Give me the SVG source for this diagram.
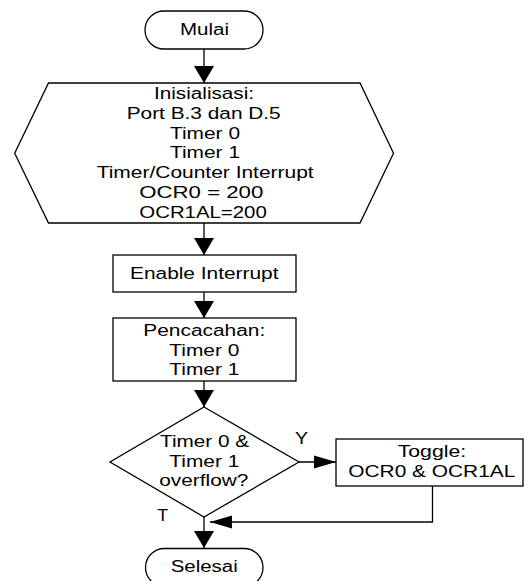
<svg xmlns="http://www.w3.org/2000/svg" width="524" height="581" viewBox="0 0 524 581">
<defs>
<style>
.s{fill:#fff;stroke:#000;stroke-width:1.3}
.c{fill:none;stroke:#000;stroke-width:1.3}
text{font-family:"Liberation Sans",Arial,sans-serif;font-size:16px;fill:#000}
</style>
<marker id="av" markerUnits="userSpaceOnUse" viewBox="0 -10 17 20" markerWidth="17" markerHeight="20" refX="17" refY="0" orient="auto">
<path d="M0,-10 L17,0 L0,10 Z" fill="#000"/>
</marker>
<marker id="ah" markerUnits="userSpaceOnUse" viewBox="0 -7 22 14" markerWidth="22" markerHeight="14" refX="22" refY="0" orient="auto">
<path d="M0,-6.5 L22,0 L0,6.5 Z" fill="#000"/>
</marker>
</defs>
<rect width="524" height="581" fill="#fff"/>
<g id="connectors">
<line class="c" x1="204" y1="49" x2="204" y2="83" marker-end="url(#av)"/>
<line class="c" x1="204" y1="223" x2="204" y2="255" marker-end="url(#av)"/>
<line class="c" x1="204" y1="292" x2="204" y2="318" marker-end="url(#av)"/>
<line class="c" x1="204" y1="381" x2="204" y2="407" marker-end="url(#av)"/>
<line class="c" x1="299" y1="462" x2="336" y2="462" marker-end="url(#ah)"/>
<line class="c" x1="204" y1="517" x2="204" y2="548" marker-end="url(#av)"/>
<polyline class="c" points="432.5,486 432.5,522 210,522" marker-end="url(#ah)"/>
<text x="295" y="444" textLength="13" lengthAdjust="spacingAndGlyphs">Y</text>
<text x="157.3" y="521" textLength="11" lengthAdjust="spacingAndGlyphs">T</text>
</g>
<g id="mulai">
<rect class="s" x="145" y="11" width="118" height="38" rx="19" ry="19"/>
<text x="180" y="35" textLength="49" lengthAdjust="spacingAndGlyphs">Mulai</text>
</g>
<g id="inisialisasi">
<polygon class="s" points="48.5,83 360,83 393.5,153.3 360,223 48.5,223 14.7,153.3"/>
<text x="154" y="99" textLength="100" lengthAdjust="spacingAndGlyphs">Inisialisasi:</text>
<text x="126.7" y="118.7" textLength="154" lengthAdjust="spacingAndGlyphs">Port B.3 dan D.5</text>
<text x="170" y="138.6" textLength="70" lengthAdjust="spacingAndGlyphs">Timer 0</text>
<text x="170" y="158.4" textLength="70" lengthAdjust="spacingAndGlyphs">Timer 1</text>
<text x="96.7" y="178.3" textLength="217" lengthAdjust="spacingAndGlyphs">Timer/Counter Interrupt</text>
<text x="139.3" y="198.3" textLength="124" lengthAdjust="spacingAndGlyphs">OCR0 = 200</text>
<text x="139.3" y="218.2" textLength="127.5" lengthAdjust="spacingAndGlyphs">OCR1AL=200</text>
</g>
<g id="enable">
<rect class="s" x="113" y="255" width="183" height="37"/>
<text x="130" y="279.3" textLength="148.5" lengthAdjust="spacingAndGlyphs">Enable Interrupt</text>
</g>
<g id="pencacahan">
<rect class="s" x="113" y="318" width="183" height="63"/>
<text x="143.3" y="335.7" textLength="122" lengthAdjust="spacingAndGlyphs">Pencacahan:</text>
<text x="169.3" y="355.5" textLength="70" lengthAdjust="spacingAndGlyphs">Timer 0</text>
<text x="169.3" y="375" textLength="70" lengthAdjust="spacingAndGlyphs">Timer 1</text>
</g>
<g id="overflow">
<polygon class="s" points="204,407 299,462 204,517 110,462"/>
<text x="160" y="447.3" textLength="89" lengthAdjust="spacingAndGlyphs">Timer 0 &amp;</text>
<text x="169.3" y="466.7" textLength="70" lengthAdjust="spacingAndGlyphs">Timer 1</text>
<text x="159.3" y="486" textLength="89" lengthAdjust="spacingAndGlyphs">overflow?</text>
</g>
<g id="toggle">
<rect class="s" x="336" y="439" width="187" height="47"/>
<text x="397.7" y="457.3" textLength="68.5" lengthAdjust="spacingAndGlyphs">Toggle:</text>
<text x="348.3" y="477.3" textLength="167" lengthAdjust="spacingAndGlyphs">OCR0 &amp; OCR1AL</text>
</g>
<g id="selesai">
<rect class="s" x="145.5" y="548.5" width="117.5" height="38" rx="19" ry="19"/>
<text x="170.7" y="571.7" textLength="67" lengthAdjust="spacingAndGlyphs">Selesai</text>
</g>
</svg>
